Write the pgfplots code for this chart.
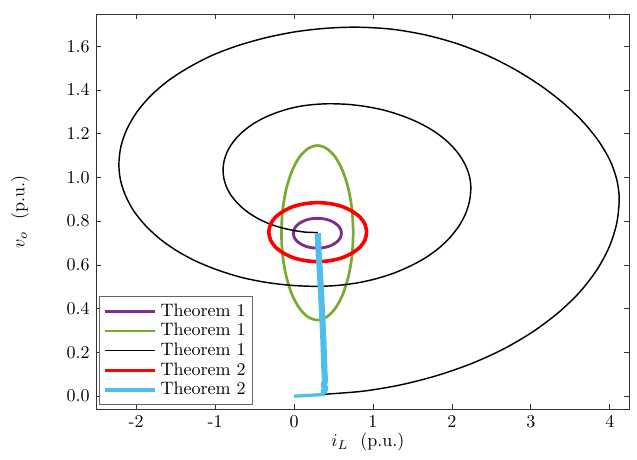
\documentclass[border=0pt]{standalone}
\usepackage{pgfplots}
\pgfplotsset{compat=1.18}
\definecolor{mpurple}{HTML}{7E2F8E}
\definecolor{mgreen}{HTML}{77AC30}
\definecolor{mblue}{HTML}{4DBEEE}
\begin{document}
\begin{tikzpicture}
\begin{axis}[
  scale only axis, width=296pt, height=219.4pt,
  xmin=-2.51, xmax=4.245, ymin=-0.0595, ymax=1.747,
  xtick={-2,-1,0,1,2,3,4}, xticklabels={-2,-1,0,1,2,3,4},
  ytick={0,0.2,0.4,0.6,0.8,1.0,1.2,1.4,1.6},
  yticklabel style={/pgf/number format/.cd,fixed,fixed zerofill,precision=1},
  tick align=inside, major tick length=2.8pt,
  axis line style={black!80}, every tick/.style={black!80},
  xlabel={$i_L$\ \ (p.u.)}, ylabel={$v_o$\ \ (p.u.)},
  xlabel style={at={(axis description cs:0.51,-0.083)}, anchor=center},
  ylabel style={at={(axis description cs:-0.143,0.5)}, anchor=center},
  legend cell align=left,
  legend image code/.code={\draw[#1] (0pt,0pt) -- (28pt,0pt);},
  legend style={at={(axis description cs:0.0056,0.0101)}, anchor=south west,
    draw=black!60, fill=white, row sep=-1.5pt, inner sep=2pt},
  line join=round,
]
% purple ellipse
\addplot[mpurple, line width=1.6pt, smooth] coordinates {
(0.600,0.745)(0.590,0.763)(0.559,0.779)(0.511,0.793)(0.448,0.804)(0.374,0.811)
(0.295,0.813)(0.216,0.811)(0.143,0.804)(0.079,0.793)(0.031,0.779)(0.000,0.763)
(-0.010,0.745)(0.000,0.727)(0.031,0.711)(0.079,0.697)(0.143,0.686)(0.216,0.679)
(0.295,0.677)(0.374,0.679)(0.448,0.686)(0.511,0.697)(0.559,0.711)(0.590,0.727)(0.600,0.745)};
% green ellipse
\addplot[mgreen, line width=1.5pt, smooth] coordinates {
(0.750,0.747)(0.735,0.850)(0.689,0.947)(0.617,1.029)(0.523,1.093)(0.413,1.132)
(0.295,1.146)(0.177,1.132)(0.068,1.093)(-0.027,1.029)(-0.099,0.947)(-0.145,0.850)
(-0.160,0.747)(-0.145,0.644)(-0.099,0.548)(-0.027,0.465)(0.068,0.402)(0.177,0.362)
(0.295,0.348)(0.413,0.362)(0.523,0.402)(0.617,0.465)(0.689,0.548)(0.735,0.644)(0.750,0.747)};
% black spiral
\addplot[black, line width=0.8pt, smooth] coordinates {
(0.390,0.009)(0.877,0.023)(1.355,0.052)(1.818,0.095)(2.255,0.150)(2.661,0.217)
(3.028,0.295)(3.349,0.382)(3.620,0.476)(3.836,0.577)(3.993,0.682)(4.088,0.790)
(4.120,0.900)
(4.091,0.987)(4.007,1.075)(3.867,1.162)(3.675,1.249)(3.434,1.333)(3.148,1.414)
(2.821,1.489)(2.460,1.556)(2.071,1.611)(1.659,1.652)(1.233,1.678)(0.800,1.687)
(0.406,1.682)(0.018,1.666)(-0.356,1.639)(-0.710,1.603)(-1.039,1.558)(-1.335,1.503)
(-1.596,1.442)(-1.815,1.374)(-1.990,1.300)(-2.117,1.222)(-2.194,1.142)(-2.220,1.060)
(-2.199,0.987)(-2.135,0.916)(-2.030,0.846)(-1.885,0.781)(-1.704,0.720)(-1.488,0.665)
(-1.242,0.617)(-0.970,0.577)(-0.677,0.544)(-0.367,0.521)(-0.046,0.507)(0.280,0.502)
(0.536,0.506)(0.787,0.517)(1.030,0.536)(1.260,0.562)(1.473,0.595)(1.666,0.633)
(1.835,0.677)(1.977,0.726)(2.091,0.779)(2.173,0.834)(2.223,0.892)(2.240,0.950)
(2.225,1.001)(2.179,1.050)(2.104,1.098)(2.000,1.144)(1.870,1.186)(1.716,1.224)
(1.540,1.257)(1.345,1.285)(1.135,1.308)(0.913,1.324)(0.684,1.334)(0.450,1.337)
(0.274,1.334)(0.101,1.327)(-0.067,1.314)(-0.225,1.296)(-0.372,1.274)(-0.505,1.248)
(-0.621,1.218)(-0.719,1.185)(-0.797,1.149)(-0.854,1.112)(-0.888,1.073)(-0.900,1.033)
(-0.890,0.996)(-0.859,0.959)(-0.809,0.924)(-0.739,0.891)(-0.652,0.860)(-0.549,0.832)
(-0.431,0.807)(-0.300,0.786)(-0.159,0.770)(-0.011,0.758)(0.143,0.750)(0.300,0.748)};
% red ellipse
\addplot[red, line width=2.0pt, smooth] coordinates {
(0.920,0.750)(0.899,0.785)(0.837,0.818)(0.738,0.845)(0.610,0.867)(0.461,0.880)
(0.300,0.885)(0.139,0.880)(-0.010,0.867)(-0.138,0.845)(-0.237,0.818)(-0.299,0.785)
(-0.320,0.750)(-0.299,0.715)(-0.237,0.682)(-0.138,0.655)(-0.010,0.633)(0.139,0.620)
(0.300,0.615)(0.461,0.620)(0.610,0.633)(0.738,0.655)(0.837,0.682)(0.899,0.715)(0.920,0.750)};
% blue trajectory: horizontal start
\addplot[mblue, line width=1.8pt, forget plot] coordinates {(0.00,0.000)(0.39,0.008)};
% blue trajectory: vertical band
\addplot[mblue, line width=3.4pt, legend image post style={line width=1.8pt}] coordinates {
(0.390,0.008)(0.372,0.020)(0.400,0.035)(0.374,0.050)(0.392,0.068)(0.384,0.120)
(0.372,0.250)(0.352,0.400)(0.330,0.550)(0.312,0.650)(0.300,0.745)};
\legend{Theorem 1, Theorem 1, Theorem 1, Theorem 2, Theorem 2}
\end{axis}
\path (current axis.south west) ++(-53.3pt,-27.8pt) (current axis.north east) ++(4.4pt,7.8pt);
\end{tikzpicture}
\end{document}
